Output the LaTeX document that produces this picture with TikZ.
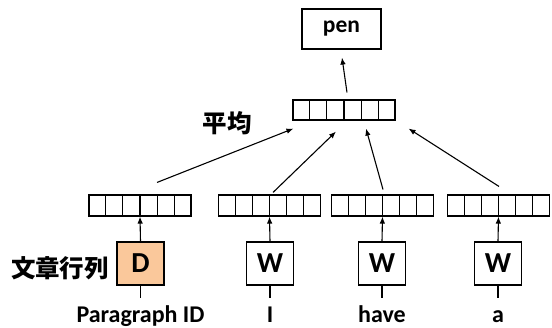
\documentclass[tikz,border=0pt]{standalone}
\usepackage{fontspec}
\setmainfont{Carlito}
\newfontfamily\cjk{Noto Sans CJK JP}
\usetikzlibrary{arrows.meta,calc}
\definecolor{docfill}{RGB}{250,200,155}
\tikzset{
  lw/.style={line width=1.1pt},
  vec/.style={draw,lw,minimum width=102pt,minimum height=21pt,inner sep=0pt},
  wordbox/.style={draw,lw,minimum width=47pt,minimum height=43pt,inner sep=0pt,
    font=\fontsize{29pt}{31pt}\selectfont\bfseries},
  outbox/.style={draw,lw,minimum width=79pt,minimum height=40pt,inner sep=0pt,
    font=\fontsize{23.5pt}{25pt}\selectfont\bfseries},
  tok/.style={anchor=base,inner sep=0pt,font=\fontsize{24pt}{26pt}\selectfont\bfseries},
  jlabel/.style={inner sep=0pt,font=\fontsize{24.5pt}{26pt}\selectfont\cjk\bfseries},
  arr/.style={lw,-{Latex[length=7pt,width=5.5pt]}},
}
\newcommand{\cells}[1]{%
  \foreach \k in {1,...,5}
    \draw[lw] ($(#1.north west)!\k/6!(#1.north east)$) -- ($(#1.south west)!\k/6!(#1.south east)$);}
\begin{document}
\begin{tikzpicture}[x=1pt,y=-1pt]
\useasboundingbox (0,0) rectangle (552,327);

% output word and averaged vector
\node[outbox] (pen) at (341.5,29) {pen};
\node[vec,minimum height=20pt] (avg) at (344,110) {};
\cells{avg}
\node[jlabel] (avglbl) at (227,123) {平均};

% input vectors
\node[vec] (v1) at (140,205.5) {};
\node[vec] (v2) at (269.5,205.5) {};
\node[vec] (v3) at (382.5,205.5) {};
\node[vec] (v4) at (498.5,205.5) {};
\foreach \v in {v1,v2,v3,v4} {\cells{\v}}

% lookup boxes
\node[wordbox,fill=docfill] (d) at (140.5,263.5) {D};
\node[wordbox] (w1) at (270,263.5) {W};
\node[wordbox] (w2) at (382,263.5) {W};
\node[wordbox] (w3) at (498,263.5) {W};
\node[jlabel] (doclbl) at (60,268) {文章行列};

% input tokens
\node[tok] (t0) at (140.5,322) {Paragraph ID};
\node[tok] (t1) at (270,322) {I};
\node[tok] (t2) at (382,322) {have};
\node[tok] (t3) at (498,322) {a};

\foreach \b/\v in {d/v1,w1/v2,w2/v3,w3/v4} {
  \draw[arr] (\b.north) -- (\v.south);
  \draw[lw] (\b.south) -- ++(0,12);
}

% averaging
\draw[arr] ([shift={(17,-12)}]v1.north) -- ([shift={(1,8)}]avg.south west);
\draw[arr] ([shift={(3.5,-2)}]v2.north) -- ([shift={(-8,11)}]avg.south);
\draw[arr] ([shift={(0.5,-5)}]v3.north) -- ([shift={(22,8)}]avg.south);
\draw[arr] ([shift={(0.5,-8)}]v4.north) -- ([shift={(13,8)}]avg.south east);
\draw[arr] ([shift={(3,-7)}]avg.north) -- ([shift={(0.5,8)}]pen.south);
\end{tikzpicture}
\end{document}
